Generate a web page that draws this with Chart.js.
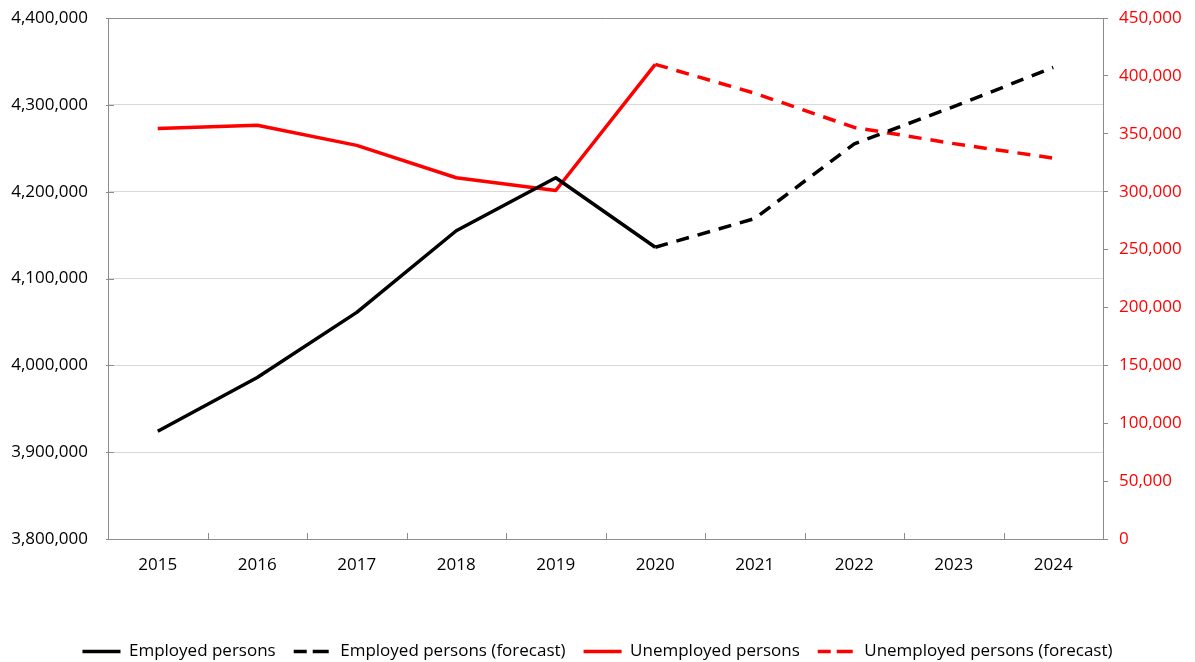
<!DOCTYPE html>
<html>
<head>
<meta charset="utf-8">
<script src="https://cdn.jsdelivr.net/npm/chart.js@4.4.1/dist/chart.umd.min.js"></script>
<style>
  html, body { margin: 0; padding: 0; background: #fff; }
  #wrap { width: 1195px; height: 662px; }
</style>
</head>
<body>
<div id="wrap"><canvas id="chart" width="1195" height="662"></canvas></div>
<script>
// ===== DATOS =====
const years = ['2015', '2016', '2017', '2018', '2019', '2020', '2021', '2022', '2023', '2024'];

// Ocupados: real hasta 2020, previsión desde 2020
const employedActual   = [3924000, 3986000, 4061000, 4155000, 4216000, 4136000, null, null, null, null];
const employedForecast = [null, null, null, null, null, 4136000, 4169000, 4255000, 4298000, 4343000];

// Desempleados (eje derecho)
const unemployedActual   = [354500, 357400, 340000, 312000, 301000, 410000, null, null, null, null];
const unemployedForecast = [null, null, null, null, null, 410000, 385000, 355500, 341500, 329000];

const leftTicks  = { min: 3800000, max: 4400000, step: 100000 };
const rightTicks = { min: 0, max: 450000, step: 50000 };

const FONT = 'Open Sans, sans-serif';
const AXIS_GRAY = '#8c8c8c';
const GRID_GRAY = '#d9d9d9';
const DASH = [13, 9];

const fmt = v => Number(v).toLocaleString('en-US');

// Ancho fijo del eje y sin relleno vertical extra
const fixAxis = width => s => {
    s.width = width;
    s.paddingTop = 0;
    s.paddingBottom = 0;
};

// Marcas hacia dentro y borde superior del área
const frameTicks = {
    id: 'frameTicks',
    afterDatasetsDraw(chart) {
        const { ctx, chartArea } = chart;
        const x = chart.scales.x;
        const y = chart.scales.y;
        ctx.save();
        ctx.strokeStyle = AXIS_GRAY;
        ctx.lineWidth = 1;
        ctx.beginPath();
        // borde superior
        ctx.moveTo(chartArea.left, chartArea.top + 0.5);
        ctx.lineTo(chartArea.right, chartArea.top + 0.5);
        // marcas del eje x entre categorías
        const band = (x.right - x.left) / years.length;
        for (let i = 0; i <= years.length; i++) {
            const px = Math.round(x.left + i * band) + 0.5;
            ctx.moveTo(px, chartArea.bottom);
            ctx.lineTo(px, chartArea.bottom - 6);
        }
        // marcas del eje izquierdo
        y.ticks.forEach(t => {
            const py = Math.round(y.getPixelForValue(t.value)) + 0.5;
            ctx.moveTo(chartArea.left - 2, py);
            ctx.lineTo(chartArea.left + 6, py);
        });
        ctx.stroke();
        ctx.restore();
    }
};

const lineDataset = (label, data, color, axis, dashed) => ({
    label,
    data,
    borderColor: color,
    backgroundColor: color,
    borderWidth: 3.5,
    borderDash: dashed ? DASH : [],
    borderJoinStyle: 'round',
    pointRadius: 0,
    pointHoverRadius: 0,
    tension: 0,
    spanGaps: false,
    yAxisID: axis
});

new Chart(document.getElementById('chart'), {
    type: 'line',
    data: {
        labels: years,
        datasets: [
            lineDataset('Employed persons', employedActual, '#000000', 'y', false),
            lineDataset('Employed persons (forecast)', employedForecast, '#000000', 'y', true),
            lineDataset('Unemployed persons', unemployedActual, '#ff0000', 'y1', false),
            lineDataset('Unemployed persons (forecast)', unemployedForecast, '#ff0000', 'y1', true)
        ]
    },
    options: {
        responsive: false,
        animation: false,
        layout: { padding: { top: 18, left: 0, right: 0, bottom: -8 } },
        plugins: {
            tooltip: { enabled: false },
            legend: {
                position: 'bottom',
                labels: {
                    font: { family: FONT, size: 17 },
                    color: '#000',
                    boxWidth: 38,
                    boxHeight: 0,
                    padding: 18,
                    generateLabels: chart => chart.data.datasets.map((ds, i) => ({
                        text: ds.label,
                        fillStyle: 'rgba(0,0,0,0)',
                        strokeStyle: ds.borderColor,
                        lineWidth: 3.5,
                        lineDash: ds.borderDash,
                        hidden: false,
                        datasetIndex: i
                    }))
                }
            }
        },
        scales: {
            x: {
                offset: true,
                grid: { display: false, drawTicks: false },
                border: { display: true, color: AXIS_GRAY, width: 1 },
                ticks: { font: { family: FONT, size: 17 }, color: '#000', padding: 16, maxRotation: 0 },
                afterFit: s => { s.height = 86; }
            },
            y: {
                position: 'left',
                min: leftTicks.min,
                max: leftTicks.max,
                grid: { color: GRID_GRAY, lineWidth: 1, drawTicks: false },
                border: { display: true, color: AXIS_GRAY, width: 1 },
                ticks: {
                    stepSize: leftTicks.step,
                    font: { family: FONT, size: 17 },
                    color: '#000',
                    padding: 20,
                    callback: v => fmt(v)
                },
                afterFit: fixAxis(108)
            },
            y1: {
                position: 'right',
                min: rightTicks.min,
                max: rightTicks.max,
                grid: { drawOnChartArea: false, color: AXIS_GRAY, tickLength: 5 },
                border: { display: true, color: AXIS_GRAY, width: 1 },
                ticks: {
                    stepSize: rightTicks.step,
                    font: { family: FONT, size: 17 },
                    color: '#ff0000',
                    padding: 11,
                    callback: v => fmt(v)
                },
                afterFit: fixAxis(92)
            }
        }
    },
    plugins: [frameTicks]
});
</script>
</body>
</html>
